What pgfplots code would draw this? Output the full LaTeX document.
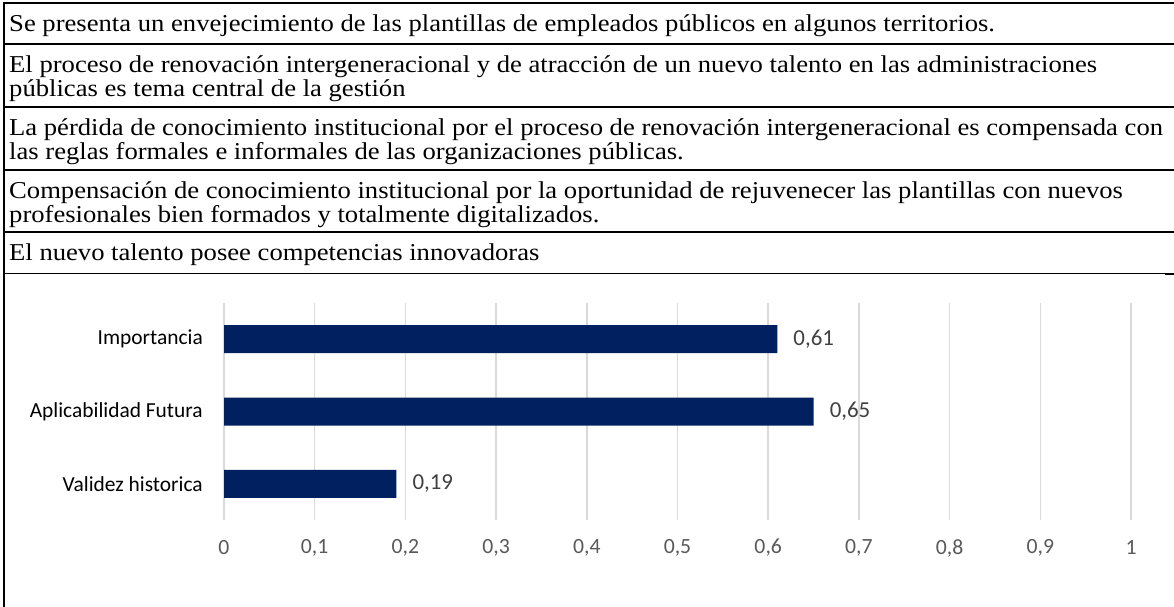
\documentclass[border=0pt]{standalone}
\usepackage{fontspec}
\setmainfont{Liberation Serif}
\newfontfamily\rowfont[FakeStretch=1.1]{Liberation Serif}
\newfontfamily\calibri{Carlito}
\usepackage{pgfplots}
\pgfplotsset{compat=1.18}
\definecolor{navy}{HTML}{002060}
\definecolor{gridc}{HTML}{D9D9D9}
\definecolor{tickc}{HTML}{595959}
\definecolor{valc}{HTML}{404040}
\begin{document}
\begin{tikzpicture}
\useasboundingbox (0,0) rectangle (1174bp,-607bp);
% frame of the table
\draw[line width=2bp] (4bp,-2bp) -- (4bp,-607bp);
\draw[line width=2bp] (3bp,-3bp) -- (1174bp,-3bp);
\draw[line width=2bp] (3bp,-44bp) -- (1174bp,-44bp);
\draw[line width=2bp] (3bp,-107bp) -- (1174bp,-107bp);
\draw[line width=2bp] (3bp,-170bp) -- (1174bp,-170bp);
\draw[line width=2bp] (3bp,-232bp) -- (1174bp,-232bp);
\draw[line width=1bp] (3bp,-273bp) -- (1165bp,-273bp);
\draw[line width=2bp] (1165bp,-273.5bp) -- (1174bp,-273.5bp);
% texts
\tikzset{rowtxt/.style={anchor=base west, inner sep=0pt, font=\rowfont\fontsize{24.3}{26}\selectfont}}
\node[rowtxt] at (9bp,-31bp) {Se presenta un envejecimiento de las plantillas de empleados públicos en algunos territorios.};
\node[rowtxt] at (9bp,-72bp) {El proceso de renovación intergeneracional y de atracción de un nuevo talento en las administraciones};
\node[rowtxt] at (9bp,-96bp) {públicas es tema central de la gestión};
\node[rowtxt] at (9bp,-135bp) {La pérdida de conocimiento institucional por el proceso de renovación intergeneracional es compensada con};
\node[rowtxt] at (9bp,-159bp) {las reglas formales e informales de las organizaciones públicas.};
\node[rowtxt] at (9bp,-198bp) {Compensación de conocimiento institucional por la oportunidad de rejuvenecer las plantillas con nuevos};
\node[rowtxt] at (9bp,-222bp) {profesionales bien formados y totalmente digitalizados.};
\node[rowtxt] at (9bp,-260bp) {El nuevo talento posee competencias innovadoras};
% chart
\begin{axis}[
  at={(677.5bp,-411.5bp)}, anchor=center,
  scale only axis, width=907bp, height=217bp,
  xmin=0, xmax=1, ymin=-0.5, ymax=2.5,
  xbar, bar width=28bp,
  axis line style={draw=none},
  major tick length=0pt,
  xmajorgrids, grid style={gridc, line width=1.5bp},
  xtick={0,0.1,0.2,0.3,0.4,0.5,0.6,0.7,0.8,0.9,1},
  xticklabels={0,{0,1},{0,2},{0,3},{0,4},{0,5},{0,6},{0,7},{0,8},{0,9},1},
  xticklabel style={font=\calibri\fontsize{21.8}{24}\selectfont, text=tickc, anchor=center, inner sep=0pt, yshift=-28bp},
  ytick={0,1,2},
  yticklabels={Validez historica, Aplicabilidad Futura, Importancia},
  yticklabel style={font=\calibri\fontsize{21.5}{24}\selectfont, text=black, anchor=east, inner sep=0pt, xshift=-21bp},
  point meta=x,
  /pgf/number format/assume math mode=true,
  nodes near coords={\pgfmathprintnumber[use comma, fixed, precision=2, assume math mode=true]{\pgfplotspointmeta}},
  nodes near coords style={font=\calibri\fontsize{23}{26}\selectfont, text=valc, anchor=west, inner sep=0pt, xshift=16bp},
]
\addplot[fill=navy, draw=none] coordinates {(0.19,0) (0.65,1) (0.61,2)};
\end{axis}
\end{tikzpicture}
\end{document}
